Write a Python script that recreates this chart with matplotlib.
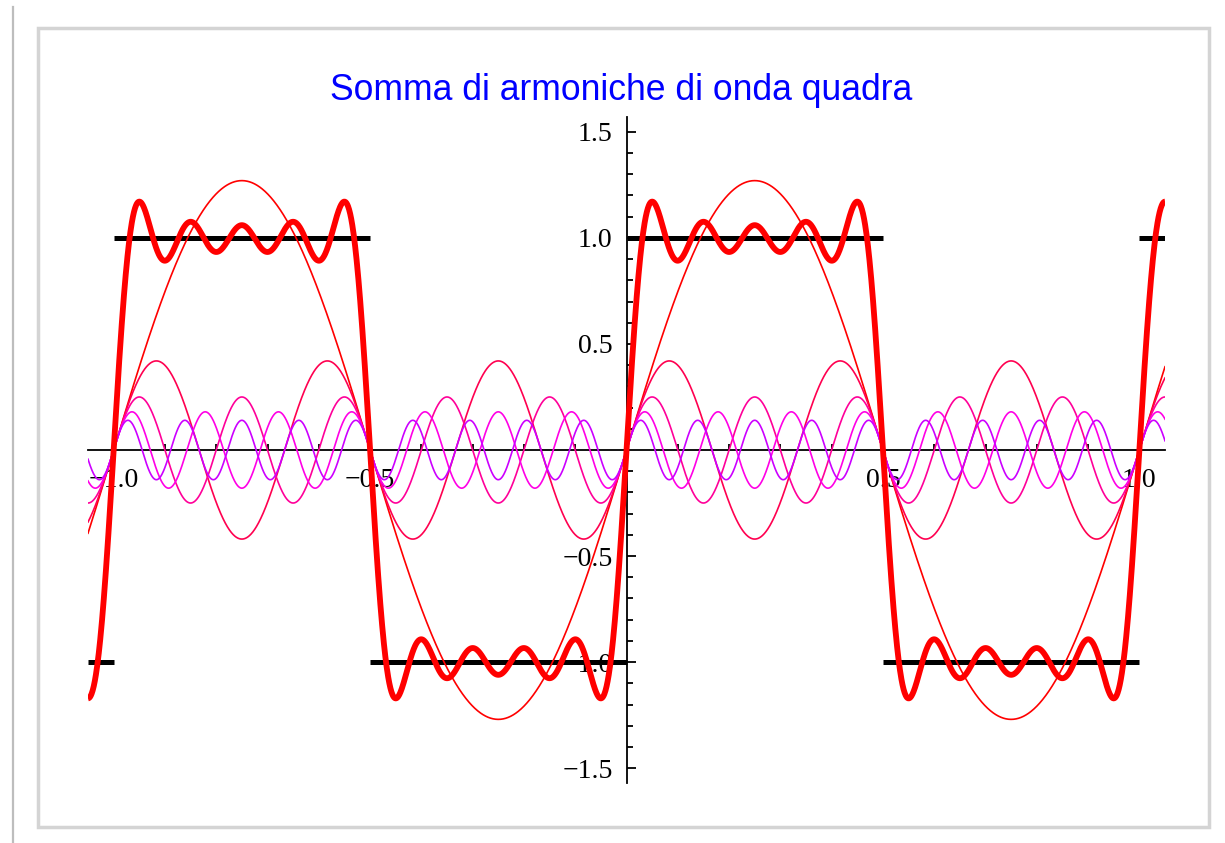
import numpy as np
import matplotlib
matplotlib.use("Agg")
import matplotlib.pyplot as plt
from matplotlib.lines import Line2D
from matplotlib.patches import Rectangle

# armoniche dispari e ampiezze
armoniche = [1, 3, 5, 7, 9]
ampiezze = [1.27, 0.42, 0.25, 0.18, 0.14]
colori = ['#ff0000', '#ff0050', '#ff0099', '#ff00e6', '#cc00ff']

# onda quadra: tratti orizzontali
bordi_x = [-1.05, -1.0, -0.5, 0.0, 0.5, 1.0, 1.05]
livelli = [-1, 1, -1, 1, -1, 1]

x_min, x_max = -1.05, 1.05
x_tick_pos = [-1.0, -0.5, 0.5, 1.0]
x_tick_lab = ['\u22121.0', '\u22120.5', '0.5', '1.0']
y_tick_pos = [-1.5, -1.0, -0.5, 0.5, 1.0, 1.5]
y_tick_lab = ['\u22121.5', '\u22121.0', '\u22120.5', '0.5', '1.0', '1.5']

fig = plt.figure(figsize=(12.25, 8.43), dpi=100)
fig.patch.set_facecolor('white')

# cornice grigia e linea a sinistra
fig.add_artist(Rectangle((38 / 1225, 1 - 827 / 843), 1171 / 1225, 799 / 843,
                         transform=fig.transFigure, fill=False,
                         edgecolor='#d4d4d4', linewidth=2.5))
fig.add_artist(Line2D([13 / 1225, 13 / 1225], [0, 1 - 7 / 843],
                      transform=fig.transFigure, color='#bdbdbd', linewidth=1.6))

ax = fig.add_axes([88 / 1225, 60 / 843, 1077 / 1225, 666 / 843])
ax.set_xlim(x_min, x_max)
ax.set_ylim(-1.57, 1.57)
ax.set_axisbelow(True)

x = np.linspace(x_min, x_max, 3000)
somma = np.zeros_like(x)
for n, a, c in zip(armoniche, ampiezze, colori):
    y = a * np.sin(2 * np.pi * n * x)
    somma += y
    ax.plot(x, y, color=c, linewidth=1.2, zorder=3)

ax.hlines(livelli, bordi_x[:-1], bordi_x[1:], colors='black', linewidth=3.6, zorder=2)
ax.plot(x, somma, color='#ff0000', linewidth=4.2, zorder=4, solid_capstyle='butt')

for lato in ['top', 'right']:
    ax.spines[lato].set_visible(False)
ax.spines['left'].set_position(('data', 0))
ax.spines['bottom'].set_position(('data', 0))
for lato in ['left', 'bottom']:
    ax.spines[lato].set_linewidth(1.3)

ax.set_xticks(x_tick_pos)
ax.set_xticklabels(x_tick_lab)
ax.set_yticks(y_tick_pos)
ax.set_yticklabels(y_tick_lab)
ax.set_xticks([k / 10 for k in range(-10, 11) if k % 5 != 0], minor=True)
ax.set_yticks([k / 10 for k in range(-15, 16) if k % 5 != 0], minor=True)

ax.tick_params(which='both', direction='in', width=1.3, color='black')
ax.tick_params(which='major', length=6.5)
ax.tick_params(which='minor', length=4.5)
ax.tick_params(axis='x', which='major', pad=13)
ax.tick_params(axis='y', which='major', pad=10)
for lab in ax.get_xticklabels() + ax.get_yticklabels():
    lab.set_fontfamily('Liberation Serif')
    lab.set_fontsize(20)

fig.text(621 / 1225, 1 - 91 / 843, 'Somma di armoniche di onda quadra',
         ha='center', va='center', color='#0000ff',
         fontfamily='Liberation Sans', fontsize=25.6)

fig.savefig('out.png', dpi=100)
